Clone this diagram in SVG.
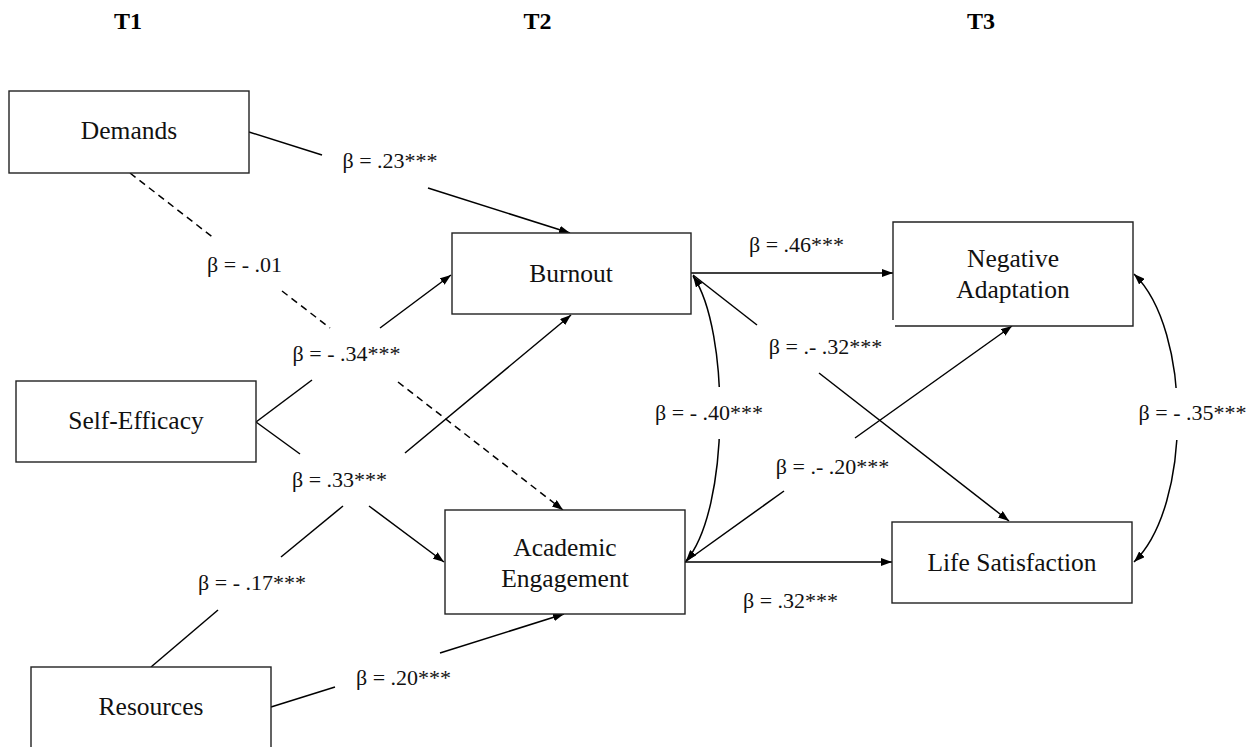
<svg xmlns="http://www.w3.org/2000/svg" width="1260" height="747" viewBox="0 0 1260 747">
<style>
.box{fill:#fff;stroke:#222;stroke-width:1.4}
.nt{font-family:"Liberation Serif","Times New Roman",serif;font-size:25.5px;fill:#111;text-anchor:middle}
.lb{font-family:"Liberation Serif","Times New Roman",serif;font-size:22px;fill:#111;text-anchor:middle}
.hd{font-family:"Liberation Serif","Times New Roman",serif;font-size:24px;font-weight:bold;fill:#000;text-anchor:middle}
.ln{fill:none;stroke:#000;stroke-width:1.5}
.ds{stroke-dasharray:7 5}
.ar{marker-end:url(#ah)}
.bi{marker-start:url(#ah);marker-end:url(#ah)}
</style>
<defs>
<marker id="ah" markerUnits="userSpaceOnUse" markerWidth="11" markerHeight="8" refX="11" refY="4" orient="auto-start-reverse">
<path d="M0,0 L11,4 L0,8 z" fill="#000"/>
</marker>
</defs>
<rect width="1260" height="747" fill="#fff"/>
<g id="headers">
<text class="hd" x="128" y="29">T1</text>
<text class="hd" x="537.5" y="29">T2</text>
<text class="hd" x="981" y="29">T3</text>
</g>
<g id="connectors">
<line class="ln" x1="249" y1="132" x2="322" y2="155"/>
<line class="ln ar" x1="428" y1="188" x2="570" y2="233"/>
<line class="ln ds" x1="130" y1="173" x2="215" y2="239"/>
<line class="ln ds" x1="282" y1="291" x2="330" y2="328"/>
<line class="ln ds ar" x1="398" y1="382" x2="563" y2="510"/>
<line class="ln" x1="256" y1="422" x2="312" y2="380"/>
<line class="ln ar" x1="380" y1="328" x2="451" y2="275"/>
<line class="ln" x1="256" y1="422" x2="300" y2="454"/>
<line class="ln ar" x1="369" y1="506" x2="444" y2="562"/>
<line class="ln" x1="151" y1="667" x2="218" y2="610"/>
<line class="ln" x1="281" y1="557" x2="343" y2="506"/>
<line class="ln ar" x1="405" y1="453" x2="571" y2="315"/>
<line class="ln" x1="271" y1="707" x2="335" y2="687"/>
<line class="ln ar" x1="440" y1="653" x2="564" y2="614"/>
<line class="ln ar" x1="691" y1="273" x2="893" y2="273"/>
<line class="ln ar" x1="685" y1="562" x2="892" y2="562"/>
<line class="ln" x1="693" y1="275" x2="757" y2="325"/>
<line class="ln ar" x1="819" y1="373" x2="1009" y2="521"/>
<line class="ln" x1="685" y1="562" x2="784" y2="491"/>
<line class="ln ar" x1="855" y1="438" x2="1012" y2="326"/>
<path class="ln bi" d="M693,276 C730,330 730,510 686,561"/>
<path class="ln bi" d="M1134,274 C1192,330 1192,506 1134,562"/>
</g>
<g id="labels">
<text class="lb" x="390" y="168">β = .23***</text>
<text class="lb" x="244.5" y="272">β = - .01</text>
<text class="lb" x="346.5" y="361">β = - .34***</text>
<text class="lb" x="339.5" y="487">β = .33***</text>
<text class="lb" x="252" y="590">β = - .17***</text>
<text class="lb" x="403.5" y="685">β = .20***</text>
<text class="lb" x="796.5" y="252">β = .46***</text>
<text class="lb" x="825.5" y="354">β = .- .32***</text>
<rect x="690" y="387" width="45" height="52" fill="#fff"/>
<text class="lb" x="709" y="420">β = - .40***</text>
<text class="lb" x="832.5" y="474">β = .- .20***</text>
<text class="lb" x="790.5" y="608">β = .32***</text>
<rect x="1160" y="388" width="35" height="52" fill="#fff"/>
<text class="lb" x="1192.5" y="420">β = - .35***</text>
</g>
<g id="demands">
<rect class="box" x="9" y="91" width="240" height="82"/>
<text class="nt" x="129" y="139">Demands</text>
</g>
<g id="self-efficacy">
<rect class="box" x="16" y="381" width="240" height="81"/>
<text class="nt" x="136" y="429">Self-Efficacy</text>
</g>
<g id="resources">
<rect class="box" x="31" y="667" width="240" height="95"/>
<text class="nt" x="151" y="715">Resources</text>
</g>
<g id="burnout">
<rect class="box" x="452" y="233" width="239" height="81"/>
<text class="nt" x="571" y="282">Burnout</text>
</g>
<g id="academic-engagement">
<rect class="box" x="445" y="510" width="240" height="104"/>
<text class="nt" x="565" y="556">Academic</text>
<text class="nt" x="565" y="587">Engagement</text>
</g>
<g id="negative-adaptation">
<rect x="893" y="222" width="240" height="104" fill="#fff"/>
<path d="M895,326 H1133 V222 H893 V320" fill="none" stroke="#222" stroke-width="1.4"/>
<text class="nt" x="1013" y="267">Negative</text>
<text class="nt" x="1013" y="298">Adaptation</text>
</g>
<g id="life-satisfaction">
<rect class="box" x="892" y="522" width="240" height="81"/>
<text class="nt" x="1012" y="571">Life Satisfaction</text>
</g>
</svg>
